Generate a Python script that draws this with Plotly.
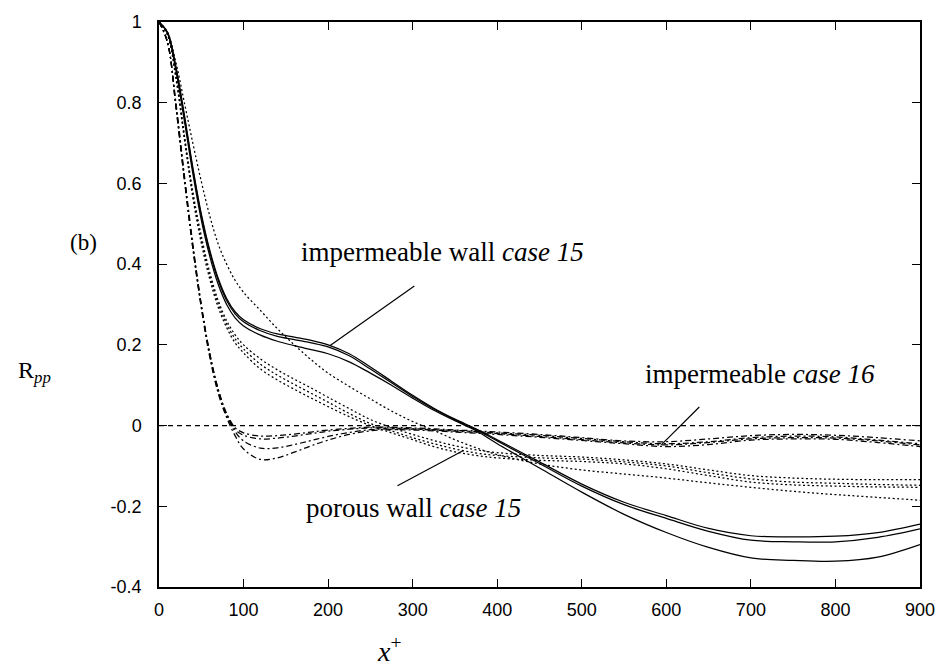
import plotly.graph_objects as go

# ---------------- data ----------------
X = [0, 10, 20, 30, 40, 50, 60, 70, 80, 90, 100, 120, 140, 160, 180, 200, 225, 250,
     275, 300, 325, 350, 375, 400, 450, 500, 550, 600, 650, 700, 750, 800, 850, 900]

# impermeable wall, case 15 (solid)
solid_1 = [1, 0.975, 0.89, 0.77, 0.64, 0.525, 0.435, 0.365, 0.315, 0.282, 0.262, 0.24, 0.227, 0.219, 0.211, 0.2, 0.178, 0.145,
           0.11, 0.075, 0.043, 0.016, -0.008, -0.035, -0.09, -0.145, -0.19, -0.223, -0.255, -0.273, -0.276, -0.274, -0.265, -0.244]
solid_2 = [1, 0.974, 0.885, 0.765, 0.635, 0.52, 0.43, 0.36, 0.31, 0.277, 0.257, 0.235, 0.221, 0.213, 0.205, 0.195, 0.173, 0.14,
           0.106, 0.072, 0.041, 0.014, -0.01, -0.038, -0.094, -0.15, -0.196, -0.23, -0.262, -0.284, -0.288, -0.288, -0.277, -0.256]
solid_3 = [1, 0.972, 0.88, 0.755, 0.625, 0.51, 0.42, 0.35, 0.3, 0.267, 0.247, 0.224, 0.209, 0.198, 0.188, 0.178, 0.158, 0.13,
           0.1, 0.068, 0.038, 0.012, -0.013, -0.045, -0.105, -0.165, -0.22, -0.265, -0.302, -0.328, -0.334, -0.336, -0.326, -0.295]

# porous wall, case 15 (dotted)
dot_1 = [1, 0.975, 0.9, 0.8, 0.7, 0.605, 0.52, 0.45, 0.4, 0.36, 0.33, 0.285, 0.24, 0.2, 0.163, 0.13, 0.097, 0.066,
         0.036, 0.01, -0.012, -0.035, -0.055, -0.072, -0.095, -0.11, -0.12, -0.13, -0.142, -0.153, -0.163, -0.171, -0.178, -0.185]
dot_2 = [1, 0.97, 0.87, 0.72, 0.58, 0.47, 0.38, 0.31, 0.26, 0.225, 0.2, 0.165, 0.138, 0.115, 0.093, 0.07, 0.042, 0.015,
         -0.005, -0.022, -0.037, -0.05, -0.06, -0.067, -0.074, -0.078, -0.085, -0.095, -0.11, -0.124, -0.13, -0.133, -0.134, -0.134]
dot_3 = [1, 0.969, 0.865, 0.715, 0.572, 0.46, 0.372, 0.302, 0.252, 0.215, 0.19, 0.152, 0.125, 0.102, 0.08, 0.058, 0.03, 0.005,
         -0.013, -0.03, -0.045, -0.058, -0.068, -0.074, -0.08, -0.083, -0.09, -0.1, -0.117, -0.132, -0.14, -0.143, -0.146, -0.148]
dot_4 = [1, 0.968, 0.86, 0.71, 0.565, 0.452, 0.363, 0.293, 0.243, 0.205, 0.18, 0.14, 0.113, 0.09, 0.068, 0.047, 0.022, 0.0,
         -0.018, -0.035, -0.052, -0.065, -0.074, -0.08, -0.086, -0.089, -0.095, -0.107, -0.124, -0.14, -0.147, -0.15, -0.152, -0.153]

# impermeable, case 16 (dash-dot)
dd_1 = [1, 0.95, 0.8, 0.62, 0.45, 0.3, 0.18, 0.09, 0.03, -0.005, -0.018, -0.026, -0.025, -0.021, -0.016, -0.011, -0.007, -0.004,
        -0.004, -0.006, -0.008, -0.011, -0.013, -0.016, -0.022, -0.03, -0.038, -0.04, -0.033, -0.025, -0.022, -0.024, -0.03, -0.038]
dd_2 = [1, 0.95, 0.795, 0.615, 0.445, 0.298, 0.178, 0.09, 0.028, -0.01, -0.024, -0.033, -0.031, -0.026, -0.02, -0.014, -0.009, -0.006,
        -0.006, -0.008, -0.01, -0.012, -0.015, -0.018, -0.024, -0.032, -0.04, -0.045, -0.04, -0.03, -0.026, -0.028, -0.036, -0.045]
dd_3 = [1, 0.95, 0.79, 0.61, 0.44, 0.295, 0.175, 0.085, 0.025, -0.015, -0.038, -0.056, -0.055, -0.047, -0.037, -0.027, -0.017, -0.01,
        -0.008, -0.009, -0.011, -0.014, -0.017, -0.02, -0.027, -0.035, -0.043, -0.048, -0.042, -0.033, -0.03, -0.031, -0.038, -0.048]
dd_4 = [1, 0.95, 0.79, 0.61, 0.44, 0.292, 0.17, 0.08, 0.02, -0.025, -0.058, -0.084, -0.08, -0.066, -0.05, -0.036, -0.022, -0.013,
        -0.01, -0.011, -0.013, -0.016, -0.019, -0.022, -0.029, -0.037, -0.045, -0.052, -0.047, -0.036, -0.033, -0.034, -0.042, -0.052]

zero_x = [0, 900]
zero_y = [0, 0]

x_ticks = [0, 100, 200, 300, 400, 500, 600, 700, 800, 900]
y_ticks = [-0.4, -0.2, 0, 0.2, 0.4, 0.6, 0.8, 1]
y_tick_text = ["-0.4", "-0.2", "0", "0.2", "0.4", "0.6", "0.8", "1"]

labels = ["impermeable wall <i>case 15</i>", "impermeable <i>case 16</i>", "porous wall <i>case 15</i>"]
label_pos = [(166, 0.43), (572, 0.128), (171, -0.205)]
pointers = [((302, 0.346), (202, 0.198)), ((639, 0.046), (594, -0.048)), ((282, -0.149), (360, -0.062))]

# ---------------- figure ----------------
fig = go.Figure()
LW = 1.25
DOT = "2px,2.5px"
DASHDOT = "6px,3px,2px,3px"

fig.add_trace(go.Scatter(x=zero_x, y=zero_y, mode="lines",
                         line=dict(color="black", width=LW, dash="5px,4px")))
for ys in [dd_1, dd_2, dd_3, dd_4]:
    fig.add_trace(go.Scatter(x=X, y=ys, mode="lines", line_shape="spline",
                             line=dict(color="black", width=LW, dash=DASHDOT)))
for ys in [dot_1, dot_2, dot_3, dot_4]:
    fig.add_trace(go.Scatter(x=X, y=ys, mode="lines", line_shape="spline",
                             line=dict(color="black", width=LW, dash=DOT)))
for ys in [solid_1, solid_2, solid_3]:
    fig.add_trace(go.Scatter(x=X, y=ys, mode="lines", line_shape="spline",
                             line=dict(color="black", width=LW)))

SERIF = "Liberation Serif, Times New Roman, serif"
SANS = "Liberation Sans, Arial, sans-serif"

for txt, (lx, ly) in zip(labels, label_pos):
    fig.add_annotation(x=lx, y=ly, xref="x", yref="y", text=txt, showarrow=False,
                       xanchor="left", yanchor="middle", font=dict(family=SERIF, size=27, color="black"))
for (p0, p1) in pointers:
    fig.add_shape(type="line", xref="x", yref="y", x0=p0[0], y0=p0[1], x1=p1[0], y1=p1[1],
                  line=dict(color="black", width=1.2))

# pixel-placed outer texts
W, H = 947, 667
ML, MR, MT, MB = 159, 23, 20, 80
pw, ph = W - ML - MR, H - MT - MB
outer = [("(b)", 83, 241, 23), ("R<sub><i>pp</i></sub>", 34, 371, 24), ("<i>x</i><sup>+</sup>", 391, 650, 28)]
for txt, px, py, sz in outer:
    fig.add_annotation(xref="paper", yref="paper", x=(px - ML) / pw, y=1 - (py - MT) / ph,
                       xanchor="center", yanchor="middle", text=txt, showarrow=False,
                       font=dict(family=SERIF, size=sz, color="black"))

fig.update_layout(
    width=W, height=H, margin=dict(l=ML, r=MR, t=MT, b=MB),
    paper_bgcolor="white", plot_bgcolor="white", showlegend=False,
    xaxis=dict(range=[0, 900], tickvals=x_ticks, ticks="inside", ticklen=8, tickwidth=1.3,
               tickcolor="black", showline=True, linecolor="black", linewidth=1.5, mirror="ticks",
               showgrid=False, zeroline=False, ticklabelstandoff=6,
               tickfont=dict(family=SANS, size=18, color="black")),
    yaxis=dict(range=[-0.4, 1], tickvals=y_ticks, ticktext=y_tick_text, ticks="inside", ticklen=8,
               tickwidth=1.3, tickcolor="black", showline=True, linecolor="black", linewidth=1.5,
               mirror="ticks", showgrid=False, zeroline=False, ticklabelstandoff=12,
               tickfont=dict(family=SANS, size=18, color="black")),
)

fig.write_html("out.html")
